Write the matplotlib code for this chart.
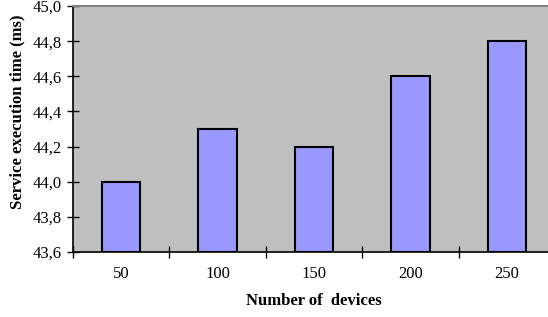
import matplotlib.pyplot as plt
from matplotlib.ticker import FuncFormatter
import numpy as np

devices = ["50", "100", "150", "200", "250"]
exec_time = [44.0, 44.3, 44.2, 44.6, 44.8]

plt.rcParams['font.family'] = ['Liberation Serif']

fig = plt.figure(figsize=(5.48, 3.17), dpi=100)
ax = fig.add_axes([0.133, 0.205, 0.88, 0.776])
ax.set_facecolor('#C0C0C0')

x = np.arange(len(devices))
ax.bar(x, [v - 43.6 for v in exec_time], bottom=43.6, width=0.4,
       color='#9999FF', edgecolor='black', linewidth=1.5, zorder=3)

ax.set_xlim(-0.5, len(devices) - 0.5)
ax.set_ylim(43.6, 45.0)
ax.set_yticks(np.arange(43.6, 45.01, 0.2))
ax.yaxis.set_major_formatter(FuncFormatter(lambda v, p: f"{v:.1f}".replace('.', ',')))

ax.set_xticks(np.arange(-0.5, len(devices), 1.0))
ax.set_xticklabels([])
ax.set_xticks(x, minor=True)
ax.set_xticklabels(devices, minor=True)
ax.tick_params(axis='x', which='minor', length=0, pad=10, labelsize=12)
ax.tick_params(axis='x', which='major', direction='inout', length=8, width=1)
ax.tick_params(axis='y', direction='inout', length=8, width=1, labelsize=12, pad=4)

ax.spines['top'].set_color('#808080')
ax.spines['top'].set_linewidth(1.5)
ax.spines['right'].set_visible(False)
ax.spines['left'].set_linewidth(1.2)
ax.spines['bottom'].set_linewidth(1.2)

ax.set_xlabel("Number of  devices", fontweight='bold', fontsize=12, labelpad=8)
ax.set_ylabel("Service execution time (ms)", fontweight='bold', fontsize=12, labelpad=5)
ax.yaxis.label.set_y(0.57)

fig.savefig("out.png", dpi=100)
